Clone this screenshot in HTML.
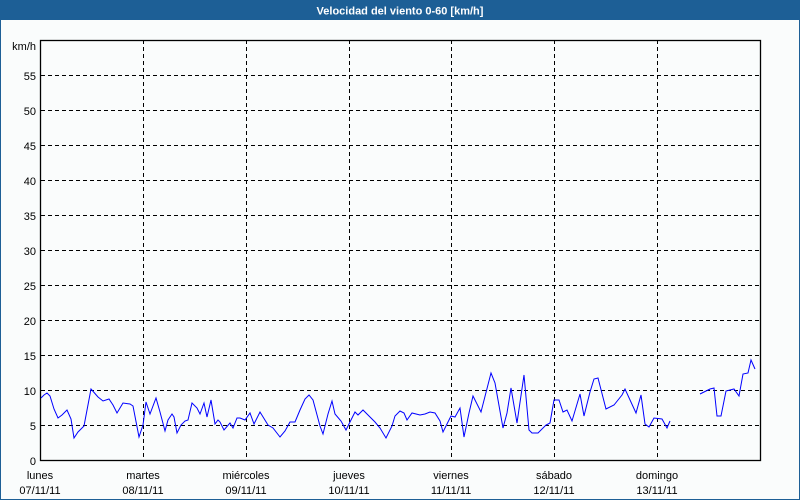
<!DOCTYPE html>
<html><head><meta charset="utf-8"><style>
html,body{margin:0;padding:0;width:800px;height:500px;overflow:hidden;background:#fafcfc;font-family:"Liberation Sans",sans-serif}
</style></head><body>
<svg width="800" height="500" xmlns="http://www.w3.org/2000/svg" style="display:block">
<rect x="0" y="0" width="800" height="500" fill="#fafcfc"/>
<rect x="0.5" y="0.5" width="799" height="499" fill="none" stroke="#1d5f96" stroke-width="1"/>
<rect x="0" y="0" width="800" height="20" fill="#1d5f96"/>
<text x="400" y="14.5" text-anchor="middle" font-size="11" font-weight="bold" fill="#fff" font-family="Liberation Sans, sans-serif">Velocidad del viento 0-60 [km/h]</text>
<g stroke="#000" stroke-width="1" stroke-dasharray="4,3" fill="none">
<path d="M41 75.5H760M41 110.5H760M41 145.5H760M41 180.5H760M41 215.5H760M41 250.5H760M41 285.5H760M41 320.5H760M41 355.5H760M41 390.5H760M41 425.5H760"/>
<path d="M143.5 40V460M246.5 40V460M349.5 40V460M451.5 40V460M554.5 40V460M657.5 40V460"/>
</g>
<rect x="40.5" y="40.5" width="720" height="420" fill="none" stroke="#000" stroke-width="1.3"/>
<g font-size="11" fill="#000" text-anchor="end" font-family="Liberation Sans, sans-serif">
<text x="36" y="50">km/h</text>
<text x="36" y="80">55</text><text x="36" y="115">50</text><text x="36" y="150">45</text><text x="36" y="185">40</text><text x="36" y="220">35</text><text x="36" y="255">30</text><text x="36" y="290">25</text><text x="36" y="325">20</text><text x="36" y="360">15</text><text x="36" y="395">10</text><text x="36" y="430">5</text><text x="36" y="465">0</text>
</g>
<g font-size="11" fill="#000" text-anchor="middle" font-family="Liberation Sans, sans-serif">
<text x="40" y="479">lunes</text><text x="40" y="494">07/11/11</text>
<text x="143" y="479">martes</text><text x="143" y="494">08/11/11</text>
<text x="246" y="479">miércoles</text><text x="246" y="494">09/11/11</text>
<text x="349" y="479">jueves</text><text x="349" y="494">10/11/11</text>
<text x="451" y="479">viernes</text><text x="451" y="494">11/11/11</text>
<text x="554" y="479">sábado</text><text x="554" y="494">12/11/11</text>
<text x="657" y="479">domingo</text><text x="657" y="494">13/11/11</text>
</g>
<g fill="none" stroke="#0000ff" stroke-width="1">
<polyline points="41,398 44,395 47,393 50,396 54,409 58,418 62,415 67,410 71,419 74,438 78,432 81,429 84,426 91,389 98,397 103,401 109,399 113,405 117,413 123,403 130,404 133,406 139,437 143,425 146,402 150,414 156,398 160,412 165,431 168,420 172,414 174,417 177,433 181,425 185,421 188,420 192,403 197,408 200,414 204,403 207,417 211,400 215,424 218,420 220,422 224,430 230,423 233,428 237,418 240,418 245,420 250,413 254,424 260,412 268,425 273,428 280,437 285,431 290,422 295,422 300,410 305,399 309,395 313,400 320,426 323,434 328,414 332,401 335,414 341,421 346,430 355,412 358,415 363,410 369,416 375,422 380,428 386,438 392,426 395,416 400,411 404,413 407,420 412,413 420,415 425,414 430,412 435,413 440,421 443,432 451,416 455,417 460,408 464,437 469,413 473,396 481,412 491,373 495,383 503,428 507,413 511,388 517,423 524,375 529,430 532,433 538,433 546,425 550,423 554,400 559,400 563,412 567,410 572,421 580,394 584,416 590,392 594,379 598,378 606,409 614,405 622,395 625,389 636,413 641,395 645,424 649,427 654,418 662,419 667,428 670,421"/>
<polyline points="700,394 710,389 714,388 717,416 721,416 726,391 734,389 739,396 743,374 748,373 751,360 755,369"/>
</g>
</svg>
</body></html>
